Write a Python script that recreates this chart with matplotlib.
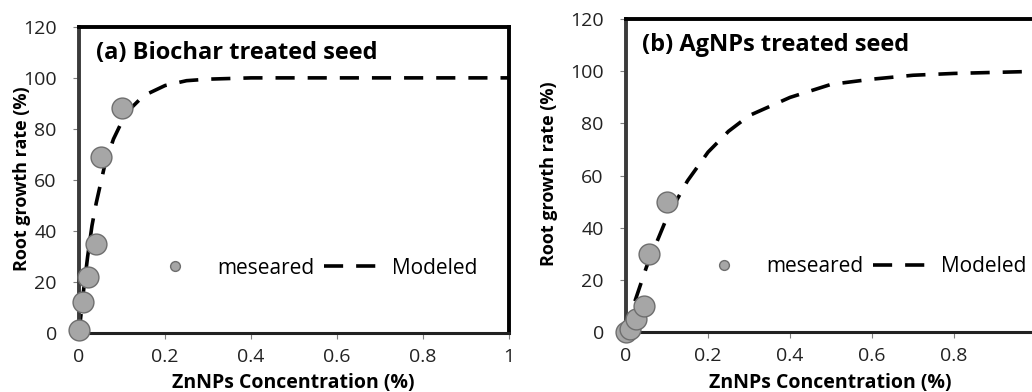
import matplotlib
matplotlib.use("Agg")
import matplotlib.pyplot as plt

# Panel (a) Biochar treated seed
a_meas_x = [0.0, 0.01, 0.02, 0.04, 0.05, 0.10]
a_meas_y = [1, 12, 22, 35, 69, 88]
a_model_x = [0.0, 0.01, 0.02, 0.03, 0.04, 0.06, 0.08, 0.10, 0.12, 0.15, 0.20, 0.25, 0.30, 0.40, 0.60, 0.80, 1.00]
a_model_y = [0, 16, 30, 42, 51, 66, 76, 83, 88, 93, 97, 98.9, 99.5, 100, 100, 100, 100]

# Panel (b) AgNPs treated seed
b_meas_x = [0.0, 0.01, 0.025, 0.045, 0.055, 0.10]
b_meas_y = [0, 1, 5, 10, 30, 50]
b_model_x = [0.0, 0.02, 0.05, 0.10, 0.15, 0.20, 0.25, 0.30, 0.40, 0.50, 0.60, 0.70, 0.80, 1.00]
b_model_y = [0, 11, 25, 44, 58, 69, 77, 83, 90, 95, 97, 98.5, 99.2, 100]

titles = ["(a) Biochar treated seed", "(b) AgNPs treated seed"]
xticks = [0, 0.2, 0.4, 0.6, 0.8, 1]
xticklabels = ["0", "0.2", "0.4", "0.6", "0.8", "1"]
yticks = [0, 20, 40, 60, 80, 100, 120]

plt.rcParams['font.family'] = ['Open Sans', 'DejaVu Sans']

fig = plt.figure(figsize=(10.32, 3.92), dpi=100)
ax1 = fig.add_axes([0.0766, 0.1505, 0.4167, 0.781])
ax2 = fig.add_axes([0.6066, 0.153, 0.3973, 0.798])

panels = [
    (ax1, a_meas_x, a_meas_y, a_model_x, a_model_y, titles[0], (0.163, 0.212), -0.133),
    (ax2, b_meas_x, b_meas_y, b_model_x, b_model_y, titles[1], (0.176, 0.208), -0.188),
]

for ax, mx, my, cx, cy, title, legpos, ylx in panels:
    ax.plot(cx, cy, color='black', lw=2.6, dashes=(5.3, 3.6), zorder=2, label='Modeled')
    ax.plot(mx, my, 'o', ms=15, mfc='#a6a6a6', mec='#6e6e6e', mew=1.0,
            clip_on=False, zorder=3, label='meseared')
    ax.set_xlim(0, 1)
    ax.set_ylim(0, 120)
    ax.set_xticks(xticks)
    ax.set_xticklabels(xticklabels)
    ax.set_yticks(yticks)
    ax.tick_params(axis='both', labelsize=14, colors='#7f7f7f', length=4, width=0.8,
                   direction='out', labelcolor='#222222')
    ax.tick_params(axis='x', pad=7)
    ax.tick_params(axis='y', pad=12)
    for s in ['top', 'right']:
        ax.spines[s].set_linewidth(2.8)
        ax.spines[s].set_color('black')
    ax.spines['left'].set_linewidth(2.8)
    ax.spines['left'].set_color('#3a3a3a')
    ax.spines['bottom'].set_linewidth(2.2)
    ax.spines['bottom'].set_color('#222222')
    ax.set_xlabel('ZnNPs Concentration (%)', fontsize=14, fontweight='bold')
    ax.xaxis.label.set_va('center')
    ax.xaxis.set_label_coords(0.497, -0.163)
    ax.set_ylabel('Root growth rate (%)', fontsize=13, fontweight='bold')
    ax.yaxis.label.set_va('center')
    ax.yaxis.set_label_coords(ylx, 0.505)
    ax.text(0.04, 0.955, title, transform=ax.transAxes, fontsize=17, fontweight='bold',
            va='top', ha='left')
    h, l = ax.get_legend_handles_labels()
    ax.legend([h[1], h[0]], [l[1], l[0]], ncol=2, frameon=False, fontsize=15,
              loc='center left', bbox_to_anchor=legpos, borderpad=0, borderaxespad=0,
              handlelength=2.5, columnspacing=0.5, handletextpad=0.75, markerscale=0.47)

fig.savefig('out.png', dpi=100)
